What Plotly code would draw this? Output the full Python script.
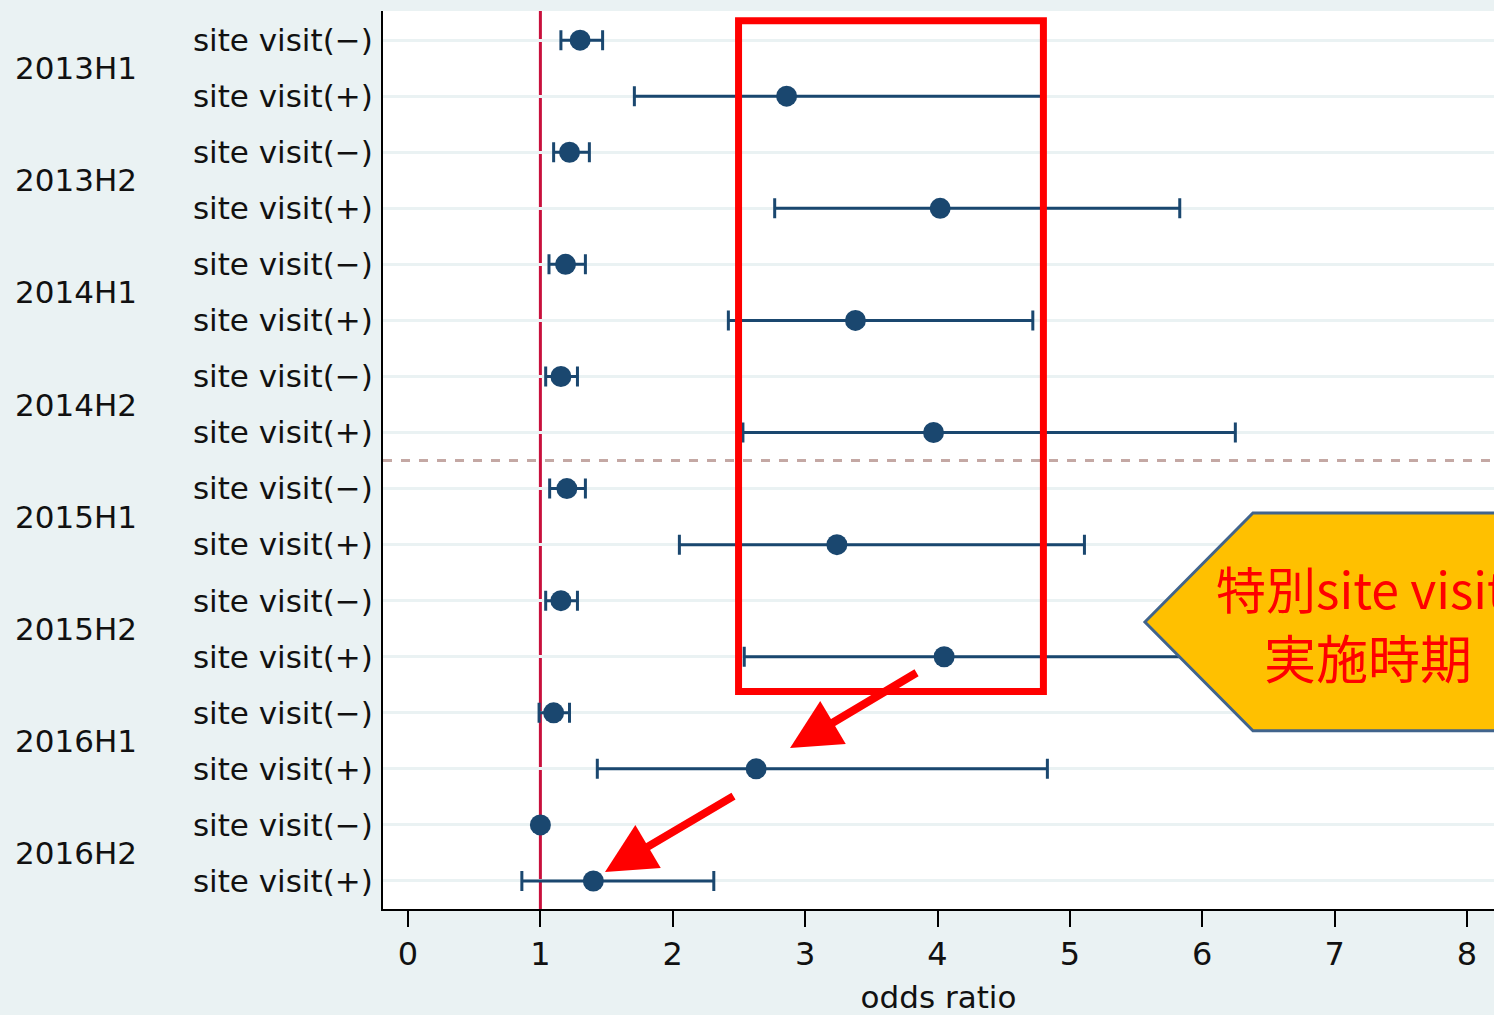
import plotly.graph_objects as go

groups = ["2013H1", "2013H2", "2014H1", "2014H2", "2015H1", "2015H2", "2016H1", "2016H2"]
row_labels = ["site visit(−)", "site visit(+)"] * 8
odds = [1.30, 2.86, 1.22, 4.02, 1.19, 3.38, 1.155, 3.97, 1.20, 3.24, 1.155, 4.05, 1.10, 2.63, 1.00, 1.40]
ci_low = [1.155, 1.71, 1.10, 2.77, 1.065, 2.42, 1.04, 2.53, 1.07, 2.05, 1.04, 2.54, 0.99, 1.43, 1.00, 0.86]
ci_high = [1.47, 4.80, 1.37, 5.83, 1.34, 4.72, 1.28, 6.25, 1.34, 5.11, 1.28, 6.50, 1.22, 4.83, 1.00, 2.31]
x_ticks = [0, 1, 2, 3, 4, 5, 6, 7, 8]

rows = list(range(len(odds)))
err_plus = [h - o for h, o in zip(ci_high, odds)]
err_minus = [o - l for o, l in zip(odds, ci_low)]

NAVY = "#1a476f"
BG = "#eaf2f3"
FONT = "DejaVu Sans"
CJK = "Noto Sans CJK JP"

fig = go.Figure()

# reference line at OR = 1
fig.add_shape(type="line", xref="x", yref="paper", x0=1, x1=1, y0=0, y1=1,
              line=dict(color="#c8103c", width=3), layer="below")
# dashed separator
fig.add_shape(type="line", xref="paper", yref="y", x0=0, x1=1, y0=7.5, y1=7.5,
              line=dict(color="#c4a8a4", width=3, dash="dash"), layer="below")

fig.add_trace(go.Scatter(
    x=odds, y=rows, mode="markers",
    marker=dict(color=NAVY, size=21),
    error_x=dict(type="data", symmetric=False, array=err_plus, arrayminus=err_minus,
                 color=NAVY, thickness=3, width=10),
    showlegend=False, cliponaxis=False,
))

# red highlight rectangle
fig.add_shape(type="rect", xref="x", yref="y", x0=2.497, x1=4.80, y0=-0.348, y1=11.62,
              line=dict(color="#ff0000", width=7), fillcolor="rgba(0,0,0,0)", layer="above")

# callout pentagon
fig.add_shape(type="path", xref="x", yref="y",
              path="M 5.567 10.38 L 6.383 8.436 L 8.4 8.436 L 8.4 12.32 L 6.383 12.32 Z",
              fillcolor="#ffc000", line=dict(color="#41648c", width=3), layer="above")

annotations = []
# arrows
for (tx, ty, ax, ay) in [(2.886, 12.63, 3.853, 11.27), (1.488, 14.84, 2.47, 13.47)]:
    annotations.append(dict(x=tx, y=ty, ax=ax, ay=ay, xref="x", yref="y", axref="x", ayref="y",
                            text="", showarrow=True, arrowhead=2, arrowsize=1.25,
                            arrowwidth=8, arrowcolor="#ff0000"))
# callout text
annotations.append(dict(x=7.2, y=9.76, xref="x", yref="y", text="特別site visit", showarrow=False,
                        font=dict(family=CJK, size=50, color="#ff0000"), xanchor="center", yanchor="middle"))
annotations.append(dict(x=7.25, y=11.0, xref="x", yref="y", text="実施時期", showarrow=False,
                        font=dict(family=CJK, size=52, color="#ff0000"), xanchor="center", yanchor="middle"))

L, R = 383, 0
W = 1494
pw = W - L - R
# group labels
for i, g in enumerate(groups):
    annotations.append(dict(x=(13 - L) / pw, y=2 * i + 0.5, xref="paper", yref="y", text=g, showarrow=False,
                            font=dict(family=FONT, size=31, color="#111111"), xanchor="left",
                            yanchor="middle"))

fig.update_layout(
    width=1494, height=1015,
    margin=dict(l=L, r=R, t=11, b=106),
    paper_bgcolor=BG, plot_bgcolor="white",
    annotations=annotations,
    font=dict(family=FONT, color="#111111"),
    xaxis=dict(range=[-0.189, 8.204], tickvals=x_ticks, ticktext=[str(t) for t in x_ticks],
               showgrid=False, zeroline=False, showline=True, linecolor="black", linewidth=2,
               ticks="outside", ticklen=16, tickwidth=2, tickcolor="black",
               tickfont=dict(size=32, family=FONT), ticklabelstandoff=0,
               title=dict(text="odds ratio", font=dict(size=31, family=FONT), standoff=16)),
    yaxis=dict(range=[15.5, -0.52], tickvals=rows, ticktext=row_labels,
               showgrid=True, gridcolor=BG, gridwidth=3, zeroline=False,
               showline=True, linecolor="black", linewidth=2, ticks="",
               tickfont=dict(size=31, family=FONT), ticklabelstandoff=2),
)

fig.write_html("out.html", config={"displayModeBar": False},
               post_script="document.body.style.margin='0';document.body.style.background='%s';" % BG)
